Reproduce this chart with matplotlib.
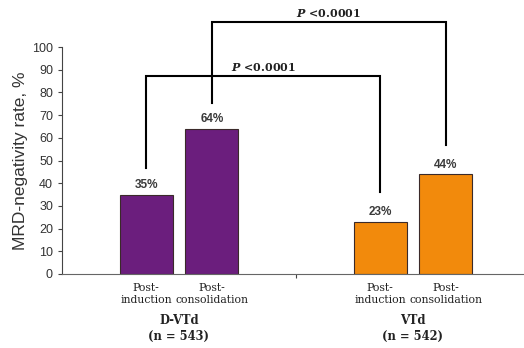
import matplotlib
matplotlib.use("Agg")
import matplotlib.pyplot as plt
import numpy as np

# MRD-negativity rates by regimen and time point
groups = ["D-VTd\n(n = 543)", "VTd\n(n = 542)"]
phases = ["Post-\ninduction", "Post-\nconsolidation"]
rates = {
    "D-VTd": [35, 64],
    "VTd": [23, 44],
}
colors = ["#6B1E7D", "#F28A0C"]
p_labels = ["P <0.0001", "P <0.0001"]

plt.rcParams["mathtext.fontset"] = "dejavuserif"

fig = plt.figure(figsize=(5.24, 3.48), dpi=100)
ax = fig.add_axes([62 / 524, 74 / 348, 468 / 524, 227 / 348])

offset = 0.14
width = 0.225
x = np.arange(len(groups))

bar_x = []
for i, (name, vals) in enumerate(rates.items()):
    xs = [x[i] - offset, x[i] + offset]
    bar_x.append(xs)
    ax.bar(xs, vals, width=width, color=colors[i], edgecolor="#3a2a2a", linewidth=0.8)
    for xx, v in zip(xs, vals):
        ax.annotate(f"{v}%", (xx, v), xytext=(0, 2.5), textcoords="offset points",
                    ha="center", va="bottom", fontsize=8.5, fontweight="bold",
                    color="#3a3a3a", family="Liberation Sans")
    # phase labels under each bar
    for xx, ph in zip(xs, phases):
        ax.text(xx, -3.8, ph, ha="center", va="top", fontsize=7.8,
                family="DejaVu Serif", color="#222", linespacing=1.25)
    ax.text(x[i], -17.5, groups[i], ha="center", va="top", fontsize=8.3,
            fontweight="bold", family="DejaVu Serif", color="#222", linespacing=1.3)

# significance brackets: post-induction and post-consolidation comparisons
vals_all = list(rates.values())
brackets = [
    (bar_x[0][0], bar_x[1][0], vals_all[0][0], vals_all[1][0], 87.2, p_labels[0]),
    (bar_x[0][1], bar_x[1][1], vals_all[0][1], vals_all[1][1], 111, p_labels[1]),
]
for x1, x2, v1, v2, top, lab in brackets:
    ax.plot([x1, x1, x2, x2], [v1 + 11.5, top, top, v2 + 13], color="black",
            lw=1.5, clip_on=False, solid_joinstyle="miter")
    p, rest = lab.split(" ", 1)
    ax.text((x1 + x2) / 2, top + 1.2, rf"$\mathbfit{{{p}}}$ " + rest, ha="center",
            va="bottom", fontsize=8, fontweight="bold", family="DejaVu Serif",
            color="#222")

ax.set_xlim(-0.5, 1.5)
ax.set_ylim(0, 100)
ax.set_yticks(np.arange(0, 101, 10))
ax.set_xticks([0.5])
ax.set_xticklabels([""])
ax.tick_params(axis="y", labelsize=9, length=3, color="#444", labelcolor="#333")
ax.tick_params(axis="x", length=3, color="#444")
for lab in ax.get_yticklabels():
    lab.set_family("Liberation Sans")
ax.set_ylabel("MRD-negativity rate, %", fontsize=12.5, color="#333",
              family="Liberation Sans", labelpad=3)

ax.spines["top"].set_visible(False)
ax.spines["right"].set_visible(False)
ax.spines["left"].set_color("#444")
ax.spines["bottom"].set_color("#666")

fig.savefig("out.png", dpi=100)
